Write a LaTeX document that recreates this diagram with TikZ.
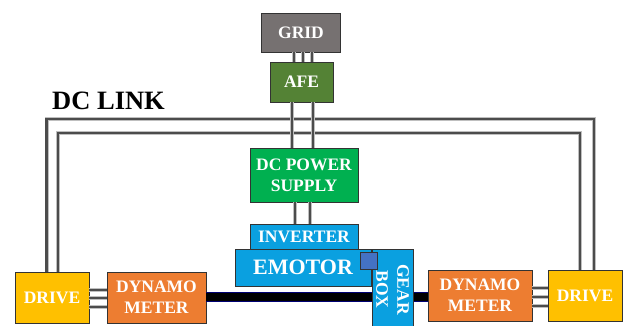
\documentclass[tikz,border=0pt]{standalone}
\usepackage{fontspec}
\setmainfont{Liberation Serif}
\usetikzlibrary{positioning}
\definecolor{gridgray}{HTML}{767171}
\definecolor{afegreen}{HTML}{548235}
\definecolor{dcgreen}{HTML}{00B050}
\definecolor{motorblue}{HTML}{0AA0E0}
\definecolor{keyblue}{HTML}{4472C4}
\definecolor{dynorange}{HTML}{ED7D31}
\definecolor{driveyellow}{HTML}{FFC000}
\tikzset{
    block/.style={rectangle, draw=black!80, line width=0.8pt, text=white, inner sep=0pt, align=center, font=\fontsize{17.5}{21}\selectfont\bfseries},
    wire/.style={draw=gray!50, line width=4pt, postaction={draw=black!70, line width=2.6pt}},
    shaft/.style={draw=blue!45!black, line width=10pt, postaction={draw=black, line width=8.4pt}}
}

\begin{document}
\begin{tikzpicture}[x=1pt, y=-1pt]
        \useasboundingbox (0,0) rectangle (628,325);
        % Netzseite
        \node (grid) [block, fill=gridgray, minimum width=79pt, minimum height=39pt] at (301,32.5) {GRID};
        \node (afe) [block, fill=afegreen, minimum width=63pt, minimum height=40pt] at (301.5,82) {AFE};
        \node (dcps) [block, fill=dcgreen, minimum width=108pt, minimum height=54pt] at (304,175) {DC POWER\\SUPPLY};
        \node (inv) [block, fill=motorblue, minimum width=108pt, minimum height=25pt] at (304,236.5) {INVERTER};
        \node (emotor) [block, fill=motorblue, minimum width=136pt, minimum height=37pt, font=\fontsize{22}{26}\selectfont\bfseries] at (303,267.5) {EMOTOR};
        
        % Pruefstand
        \node (ldrive) [block, fill=driveyellow, minimum width=74pt, minimum height=51pt] at (52,297.5) {DRIVE};
        \node (ldyn) [block, fill=dynorange, minimum width=99pt, minimum height=51pt] at (156.5,297.5) {DYNAMO\\METER};
        \node (rdyn) [block, fill=dynorange, minimum width=104pt, minimum height=51pt] at (480,295.5) {DYNAMO\\METER};
        \node (rdrive) [block, fill=driveyellow, minimum width=74pt, minimum height=51pt] at (585,295.5) {DRIVE};
        
        \node (dclink) [anchor=base west, inner sep=0pt, font=\fontsize{26.5}{30}\selectfont\bfseries] at (52,109) {DC LINK};
        \coordinate (railA) at (0,119);
        \coordinate (railB) at (0,133);
        
        % DC link
        \draw[wire] ([xshift=-5.3pt]ldrive.north) -- ([xshift=-5.3pt]ldrive.north |- railA) -- ([xshift=9pt]rdrive.north |- railA) -- ([xshift=9pt]rdrive.north);
        \draw[wire] ([xshift=6pt]ldrive.north) -- ([xshift=6pt]ldrive.north |- railB) -- ([xshift=-5pt]rdrive.north |- railB) -- ([xshift=-5pt]rdrive.north);
        
        \foreach \dx in {-7.5,1.5,10.5}
            \draw[wire] ([xshift=\dx pt]afe.north) -- ([xshift=\dx pt]afe.north |- grid.south);
        \foreach \dx in {-9.5,11.5}
            \draw[wire] ([xshift=\dx pt]afe.south) -- ([xshift=\dx pt]afe.south |- dcps.north);
        \foreach \dx in {-9,6}
            \draw[wire] ([xshift=\dx pt]dcps.south) -- ([xshift=\dx pt]dcps.south |- inv.north);
        \foreach \dy in {7.5,-0.5,-9.5}
            \draw[wire] ([yshift=\dy pt]ldrive.east) -- ([yshift=\dy pt]ldrive.east -| ldyn.west);
        \foreach \dy in {7.5,-1.5,-10.5}
            \draw[wire] ([yshift=\dy pt]rdyn.east) -- ([yshift=\dy pt]rdyn.east -| rdrive.west);
        
        % Welle
        \draw[shaft] ([yshift=0.5pt]ldyn.east) -- ([yshift=0.5pt]ldyn.east -| rdyn.west);
        \node (gear) [block, fill=motorblue, rotate=-90, minimum width=81pt, minimum height=41pt] at (392.5,289.5) {GEAR\\BOX};
        \node (coupling) [block, fill=keyblue, minimum size=17pt] at (368.5,260.5) {};
\end{tikzpicture}
\end{document}
